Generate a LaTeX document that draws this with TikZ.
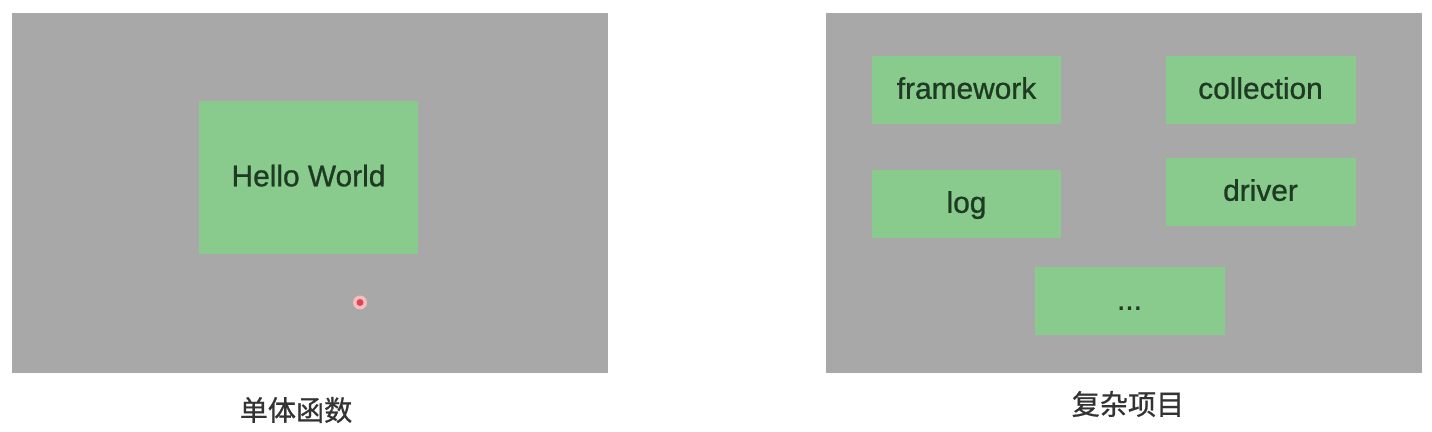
\documentclass[tikz,border=0pt]{standalone}
\usepackage{fontspec}
\setmainfont{Liberation Sans}
\newfontfamily\modfont[FakeBold=0.9]{Liberation Sans}
\newfontfamily\cjk[FakeBold=0.8]{Noto Sans CJK SC}
\usetikzlibrary{positioning}
\definecolor{panelgray}{HTML}{A8A8A8}
\definecolor{boxgreen}{HTML}{88CB8D}
\definecolor{textgreen}{HTML}{1F3A22}
\definecolor{captiongray}{HTML}{333333}
\definecolor{dotred}{HTML}{E0454F}

\begin{document}
\begin{tikzpicture}[x=0.02cm,y=-0.02cm,
panel/.style={fill=panelgray,inner sep=0pt,minimum width=11.92cm,minimum height=7.2cm},
module/.style={fill=boxgreen,inner sep=0pt,minimum width=3.8cm,minimum height=1.36cm,
  text=textgreen,font=\modfont\fontsize{17}{20}\selectfont,text height=12pt,text depth=2pt},
caption/.style={text=captiongray,font=\cjk\fontsize{16}{19}\selectfont}]
\useasboundingbox[fill=white] (0,0) rectangle (1432,432);
% left: one function
\node[panel] (single) at (310,193) {};
\node[module,minimum width=4.38cm,minimum height=3.06cm] (hello) at (308.5,177.5) {Hello World};
\fill[dotred!35] (360,302.5) circle (7);
\fill[dotred] (360,302.5) circle (3.5);
\node[caption] (singlecap) at (296,410) {单体函数};
% right: a whole project
\node[panel] (multi) at (1124,193) {};
\node[module] (framework) at (966.5,90) {framework};
\node[module] (collection) at (1260.5,90) {collection};
\node[module] (log) at (966.5,204) {log};
\node[module] (driver) at (1260.5,192) {driver};
\node[module] (more) at (1129.5,301) {...};
\node[caption] (multicap) at (1128,404) {复杂项目};
\end{tikzpicture}
\end{document}
